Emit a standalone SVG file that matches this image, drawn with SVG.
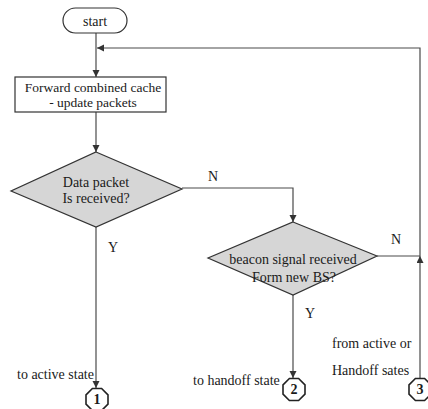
<svg xmlns="http://www.w3.org/2000/svg" width="428" height="409" viewBox="0 0 428 409">
<style>
text{font-family:"Liberation Serif","Times New Roman",serif;font-size:14px;fill:#1a1a1a}
.c{text-anchor:middle}
.bx{font-size:13.5px}
.ln{fill:none;stroke:#4a4a4a;stroke-width:1.2}
.sh{fill:#fff;stroke:#333;stroke-width:1.2}
.dm{fill:#d6d6d6;stroke:#333;stroke-width:1.2}
.oc{fill:#fff;stroke:#222;stroke-width:1.6}
.num{font-weight:bold;font-size:14px}
</style>
<defs>
<marker id="ar" markerWidth="8" markerHeight="8" refX="7" refY="3.5" orient="auto" markerUnits="userSpaceOnUse">
<path d="M0,0 L7,3.5 L0,7 Z" fill="#333"/>
</marker>
</defs>
<rect width="428" height="409" fill="#fff"/>
<g id="connectors">
<path class="ln" d="M96,33 V77" marker-end="url(#ar)"/>
<path class="ln" d="M96,112 V152" marker-end="url(#ar)"/>
<path class="ln" d="M182,188 H293 V222" marker-end="url(#ar)"/>
<path class="ln" d="M96,227 V388" marker-end="url(#ar)"/>
<path class="ln" d="M293,295 V378" marker-end="url(#ar)"/>
<path class="ln" d="M377,256 H420"/>
<path class="ln" d="M420,378 V256" marker-end="url(#ar)"/>
<path class="ln" d="M420,256 V48 H97" marker-end="url(#ar)"/>
<text class="c" x="213" y="181">N</text>
<text class="c" x="113" y="252">Y</text>
<text class="c" x="396" y="244">N</text>
<text class="c" x="310" y="318">Y</text>
</g>
<g id="start">
<rect class="sh" x="63" y="8" width="64" height="25" rx="12.5"/>
<text class="c" x="95" y="26">start</text>
</g>
<g id="forward">
<rect class="sh" x="15" y="77" width="151" height="35"/>
<text class="c bx" x="93" y="92">Forward combined cache</text>
<text class="c bx" x="93" y="107">- update packets</text>
</g>
<g id="data-packet">
<polygon class="dm" points="96,152 182,189 96,227 11,191"/>
<text class="c" x="96" y="187">Data packet</text>
<text class="c" x="96" y="203">Is received?</text>
</g>
<g id="beacon">
<polygon class="dm" points="293,222 377,256 293,295 208,258"/>
<text class="c" x="293" y="264">beacon signal received</text>
<text class="c" x="294" y="282">Form new BS?</text>
</g>
<g id="conn1">
<polygon class="oc" points="92.4,388.5 101.6,388.5 108,394.9 108,404.1 101.6,410.5 92.4,410.5 86,404.1 86,394.9"/>
<text class="c num" x="97" y="404">1</text>
<text x="17" y="379">to active state</text>
</g>
<g id="conn2">
<polygon class="oc" points="289.4,378.5 298.6,378.5 305,384.9 305,394.1 298.6,400.5 289.4,400.5 283,394.1 283,384.9"/>
<text class="c num" x="294" y="394">2</text>
<text x="193" y="385">to handoff state</text>
</g>
<g id="conn3">
<polygon class="oc" points="415.4,378.5 424.6,378.5 431,384.9 431,394.1 424.6,400.5 415.4,400.5 409,394.1 409,384.9"/>
<text class="c num" x="420" y="394">3</text>
<text x="332" y="348">from active or</text>
<text x="332" y="375">Handoff sates</text>
</g>
</svg>
